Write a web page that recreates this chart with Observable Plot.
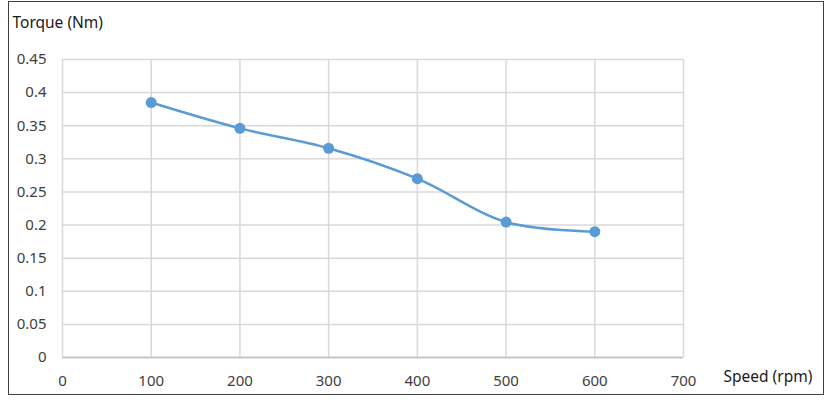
<!DOCTYPE html>
<html>
<head>
<meta charset="utf-8">
<script src="https://cdn.jsdelivr.net/npm/d3@7"></script>
<script src="https://cdn.jsdelivr.net/npm/@observablehq/plot@0.6"></script>
<style>
  html, body { margin: 0; padding: 0; background: #fff; }
  #wrap { position: relative; width: 839px; height: 403px; }
  #frame { position: absolute; left: 8px; top: 1px; width: 814px; height: 392px; border: 1px solid #404040; pointer-events: none; }
  #wrap svg { position: absolute; left: 0; top: 0; }
</style>
</head>
<body>
<div id="wrap"><div id="frame"></div></div>
<script>
const speeds = [100, 200, 300, 400, 500, 600];
const torques = [0.385, 0.346, 0.316, 0.270, 0.2045, 0.19];
const xTicks = [0, 100, 200, 300, 400, 500, 600, 700];
const yTicks = [0, 0.05, 0.1, 0.15, 0.2, 0.25, 0.3, 0.35, 0.4, 0.45];
const yTitle = "Torque (Nm)";
const xTitle = "Speed (rpm)";

const data = speeds.map((s, i) => ({speed: s, torque: torques[i]}));
const font = "'Noto Sans', 'Open Sans', sans-serif";
const blue = "#5b9bd5";

const chart = Plot.plot({
  width: 839,
  height: 403,
  marginLeft: 62,
  marginRight: 156,
  marginTop: 59,
  marginBottom: 46,
  style: {fontFamily: font, fontSize: "15px", color: "#404040", background: "transparent"},
  x: {domain: [0, 700], ticks: xTicks, label: null},
  y: {domain: [0, 0.45], ticks: yTicks, label: null},
  marks: [
    Plot.gridX(xTicks, {stroke: "#d9d9d9", strokeOpacity: 1, strokeWidth: 1.5}),
    Plot.gridY(yTicks, {stroke: "#d9d9d9", strokeOpacity: 1, strokeWidth: 1.5}),
    Plot.ruleY([0], {stroke: "#bfbfbf", strokeWidth: 1.5}),
    Plot.axisX(xTicks, {tickSize: 0, tickPadding: 18, fontSize: 15, fill: "#404040", tickFormat: d => String(d)}),
    Plot.axisY(yTicks, {tickSize: 0, tickPadding: 16, fontSize: 15, fill: "#404040", tickFormat: d => String(d)}),
    Plot.line(data, {x: "speed", y: "torque", stroke: blue, strokeWidth: 2.5, curve: "catmull-rom"}),
    Plot.dot(data, {x: "speed", y: "torque", fill: blue, r: 5.5, stroke: "none"}),
    Plot.text([yTitle], {frameAnchor: "top-left", dx: -50, dy: -43, text: d => d, textAnchor: "start", fontSize: 15.5, fill: "#1a1a1a"}),
    Plot.text([xTitle], {frameAnchor: "bottom-right", dx: 40, dy: 24, text: d => d, textAnchor: "start", fontSize: 15.5, fill: "#1a1a1a"})
  ]
});
document.getElementById("wrap").appendChild(chart);
</script>
</body>
</html>
